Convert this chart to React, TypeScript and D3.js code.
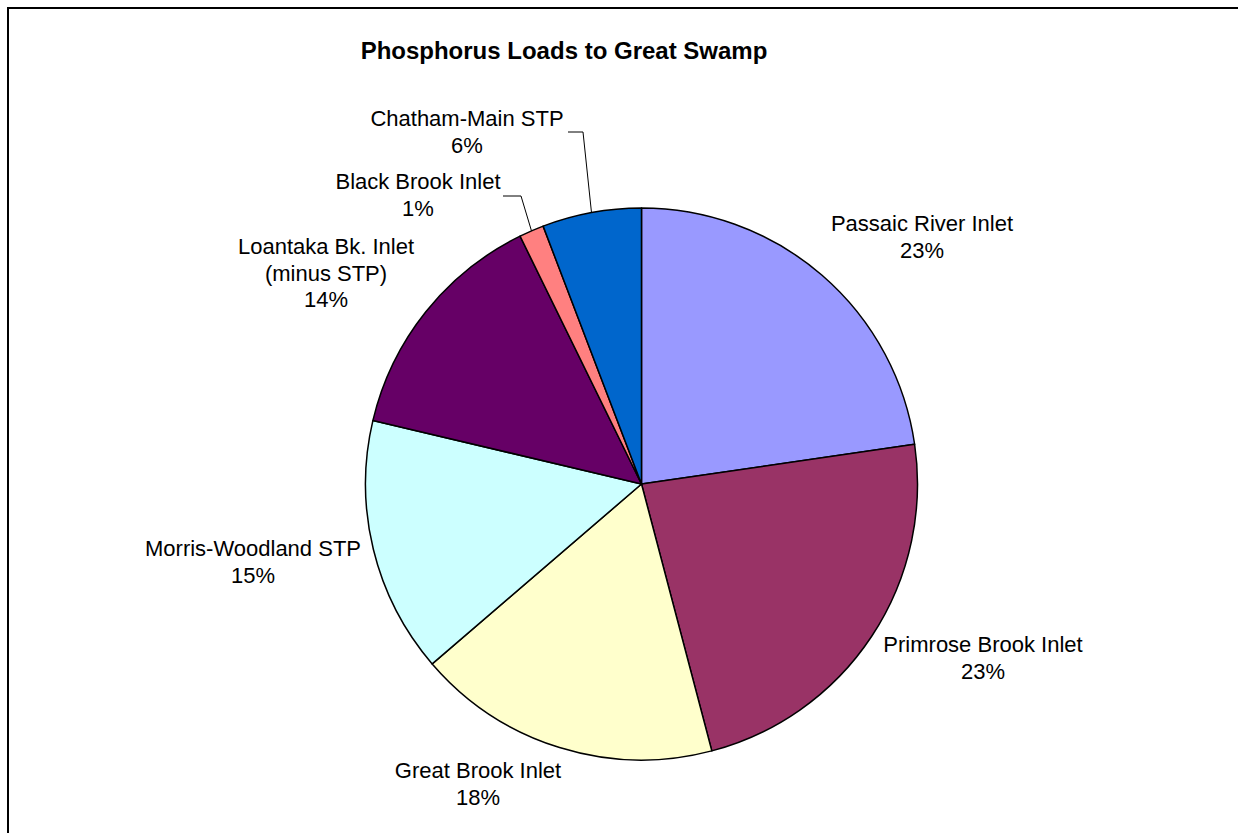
import React from 'react';
import * as d3 from 'd3';

// Phosphorus load shares (%), clockwise from 12 o'clock
const sources = [
  'Passaic River Inlet',
  'Primrose Brook Inlet',
  'Great Brook Inlet',
  'Morris-Woodland STP',
  'Loantaka Bk. Inlet (minus STP)',
  'Black Brook Inlet',
  'Chatham-Main STP',
];
const labelLines = [
  ['Passaic River Inlet'],
  ['Primrose Brook Inlet'],
  ['Great Brook Inlet'],
  ['Morris-Woodland STP'],
  ['Loantaka Bk. Inlet', '(minus STP)'],
  ['Black Brook Inlet'],
  ['Chatham-Main STP'],
];
const loads = [22.7, 23.2, 17.8, 15.0, 14.05, 1.45, 5.8];
const colors = ['#9999FF', '#993366', '#FFFFCC', '#CCFFFF', '#660066', '#FF8080', '#0066CC'];

const width = 1238;
const height = 833;
const cx = 641.5;
const cy = 484;
const radius = 276;
const lineHeight = 26.5;
const font = '"Liberation Sans", Arial, sans-serif';

// label anchors: center x, first baseline y; optional leader elbow
const labelLayout: { x: number; y: number; elbow?: [number, number, number] }[] = [
  { x: 922, y: 231 },
  { x: 983, y: 652 },
  { x: 478, y: 778 },
  { x: 253, y: 556 },
  { x: 326, y: 254 },
  { x: 418, y: 189, elbow: [503, 521, 196] },
  { x: 467, y: 126, elbow: [568, 583, 132] },
];

const App: React.FC = () => {
  const total = d3.sum(loads);
  const pie = d3.pie<number>().sort(null).startAngle(0).endAngle(2 * Math.PI);
  const arcs = pie(loads);
  const arc = d3.arc<d3.PieArcDatum<number>>().innerRadius(0).outerRadius(radius);

  return (
    <svg
      width={width}
      height={height}
      style={{ position: 'absolute', left: 0, top: 0, background: '#fff' }}
    >
      <rect x={8} y={8} width={width + 20} height={height + 20} fill="#fff" stroke="#000" strokeWidth={2} />
      <text
        x={564}
        y={59}
        textAnchor="middle"
        fontFamily={font}
        fontWeight="bold"
        fontSize={24}
        fill="#000"
      >
        Phosphorus Loads to Great Swamp
      </text>
      <g transform={`translate(${cx},${cy})`}>
        {arcs.map((a, i) => (
          <path key={sources[i]} d={arc(a) || ''} fill={colors[i]} stroke="#000" strokeWidth={1.5} strokeLinejoin="round" />
        ))}
      </g>
      {arcs.map((a, i) => {
        const L = labelLayout[i];
        if (!L.elbow) return null;
        const mid = (a.startAngle + a.endAngle) / 2;
        const ex = cx + radius * Math.sin(mid);
        const ey = cy - radius * Math.cos(mid);
        const [x0, x1, y] = L.elbow;
        return (
          <path
            key={'lead' + i}
            d={`M${x0},${y}L${x1},${y}L${ex},${ey}`}
            fill="none"
            stroke="#000"
            strokeWidth={1}
          />
        );
      })}
      {arcs.map((a, i) => {
        const L = labelLayout[i];
        const lines = [...labelLines[i], `${Math.round((a.data / total) * 100)}%`];
        return (
          <text key={'lab' + i} textAnchor="middle" fontFamily={font} fontSize={22} fill="#000">
            {lines.map((t, j) => (
              <tspan key={j} x={L.x} y={L.y + j * lineHeight}>
                {t}
              </tspan>
            ))}
          </text>
        );
      })}
    </svg>
  );
};

export default App;
